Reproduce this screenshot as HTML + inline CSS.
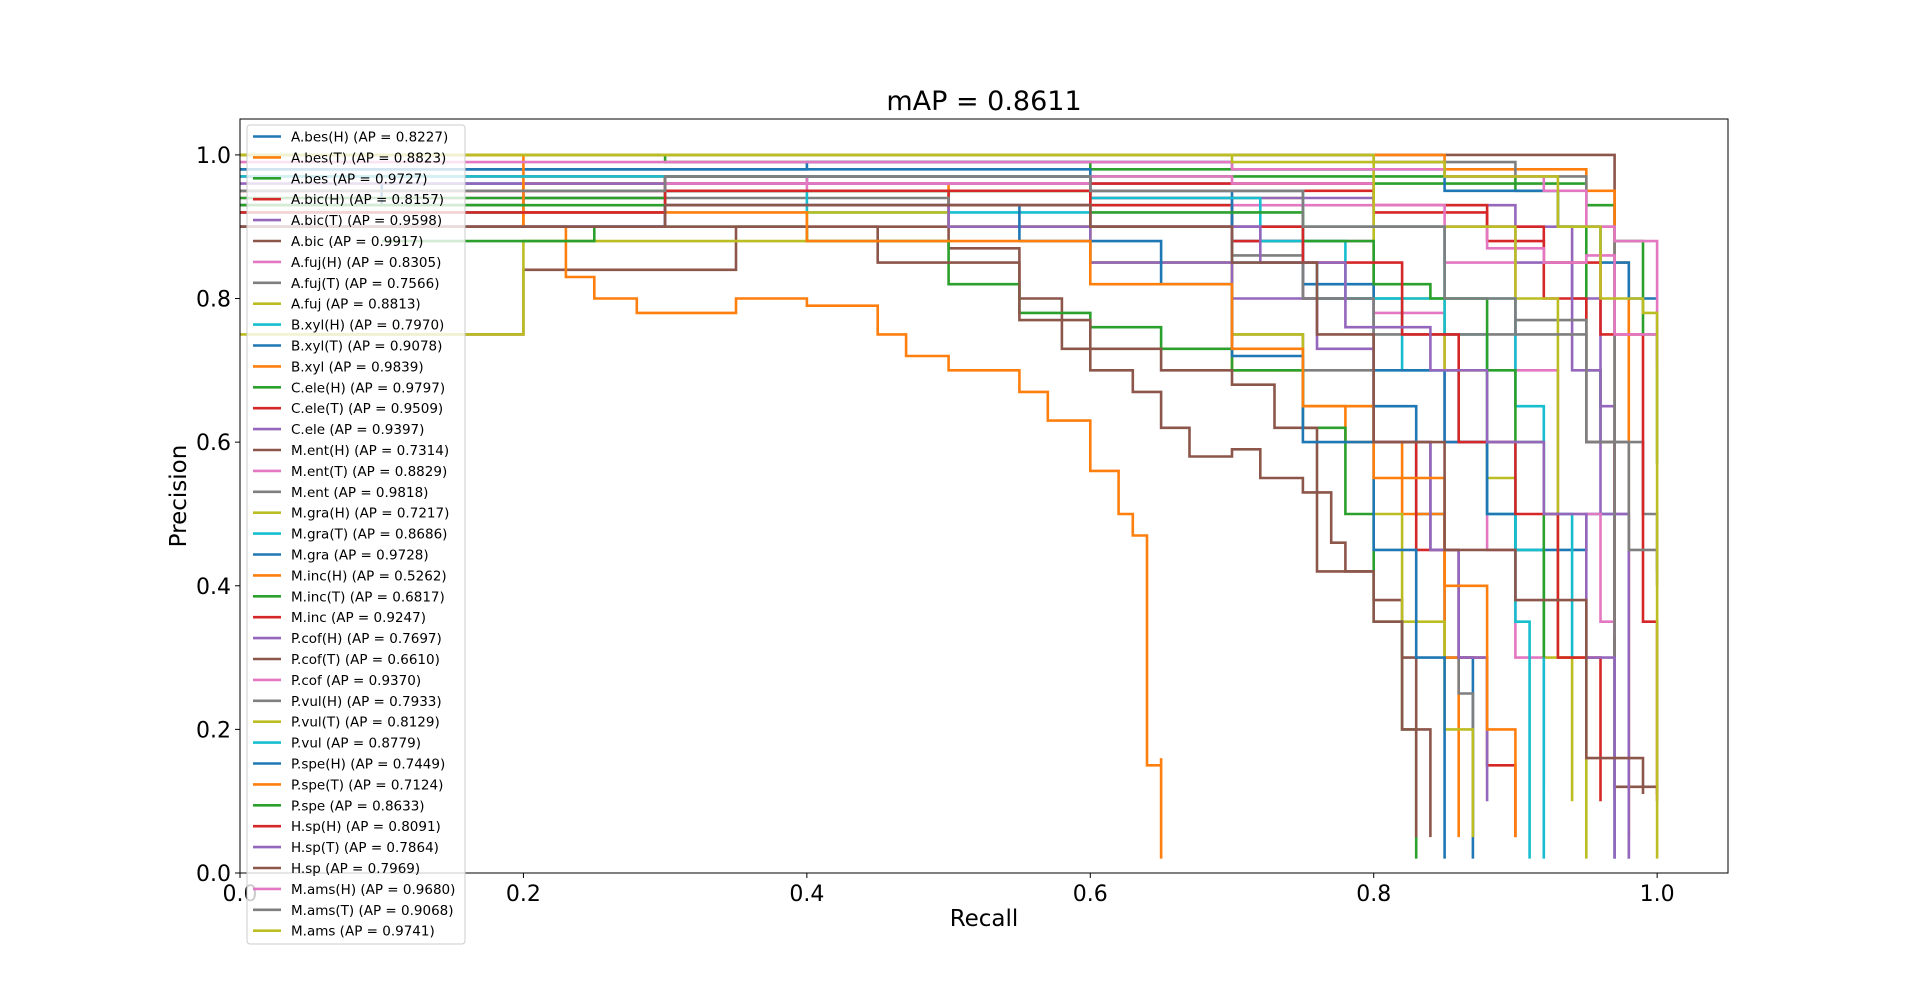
<!DOCTYPE html>
<html><head><meta charset="utf-8">
<style>
html,body{margin:0;padding:0;background:#fff;}
svg text{font-family:"DejaVu Sans","Liberation Sans",sans-serif;}
</style></head>
<body>
<svg id="chart" width="1920" height="981" xmlns="http://www.w3.org/2000/svg">
<rect width="1920" height="981" fill="#fff"/>
<text x="984" y="110" font-size="27" text-anchor="middle">mAP = 0.8611</text>
<g id="plot"></g>
<rect x="240" y="119" width="1488" height="754" fill="none" stroke="#000" stroke-width="1"/>
<g id="ticks"></g>
<text x="984" y="926" font-size="23" text-anchor="middle">Recall</text>
<text transform="translate(186,496) rotate(-90)" font-size="23" text-anchor="middle">Precision</text>
<g id="legend"></g>
</svg>
<script>
const names=["A.bes(H)","A.bes(T)","A.bes","A.bic(H)","A.bic(T)","A.bic","A.fuj(H)","A.fuj(T)","A.fuj","B.xyl(H)","B.xyl(T)","B.xyl","C.ele(H)","C.ele(T)","C.ele","M.ent(H)","M.ent(T)","M.ent","M.gra(H)","M.gra(T)","M.gra","M.inc(H)","M.inc(T)","M.inc","P.cof(H)","P.cof(T)","P.cof","P.vul(H)","P.vul(T)","P.vul","P.spe(H)","P.spe(T)","P.spe","H.sp(H)","H.sp(T)","H.sp","M.ams(H)","M.ams(T)","M.ams"];
const apValues=["0.8227","0.8823","0.9727","0.8157","0.9598","0.9917","0.8305","0.7566","0.8813","0.7970","0.9078","0.9839","0.9797","0.9509","0.9397","0.7314","0.8829","0.9818","0.7217","0.8686","0.9728","0.5262","0.6817","0.9247","0.7697","0.6610","0.9370","0.7933","0.8129","0.8779","0.7449","0.7124","0.8633","0.8091","0.7864","0.7969","0.9680","0.9068","0.9741"];
const recalls=[
[0,0.1,0.4,0.6,0.7,0.75,0.8,0.83,0.85,0.87,0.87],
[0,0.2,0.5,0.6,0.7,0.75,0.78,0.82,0.85,0.86],
[0,0.3,0.6,0.8,0.9,0.95,0.97,0.99,1.0],
[0,0.2,0.5,0.7,0.75,0.8,0.83,0.86,0.88,0.9],
[0,0.3,0.6,0.8,0.9,0.94,0.96,0.97,0.98],
[0,0.3,0.6,0.9,0.95,0.96,0.97,1.0],
[0,0.3,0.6,0.7,0.75,0.8,0.85,0.88,0.9,0.92],
[0,0.2,0.5,0.6,0.7,0.75,0.8,0.84,0.86,0.87],
[0,0.3,0.6,0.75,0.8,0.85,0.88,0.9,0.92,0.94],
[0,0.2,0.4,0.6,0.7,0.76,0.82,0.86,0.88,0.9,0.91],
[0,0.4,0.6,0.7,0.75,0.8,0.85,0.88,0.9,0.95,0.97],
[0,0.4,0.7,0.85,0.9,0.95,0.97,0.98],
[0,0.3,0.6,0.8,0.9,0.93,0.95,0.96],
[0,0.3,0.6,0.8,0.88,0.92,0.95,0.97],
[0,0.3,0.6,0.8,0.9,0.94,0.96,0.98],
[0.05,0.2,0.35,0.4,0.5,0.55,0.58,0.6,0.63,0.65,0.67,0.7,0.72,0.75,0.77,0.78,0.8,0.82,0.83,0.84],
[0,0.3,0.6,0.75,0.8,0.85,0.9,0.93,0.96,0.97],
[0,0.5,0.8,0.9,0.95,0.97,0.99,1.0],
[0,0.2,0.4,0.5,0.6,0.7,0.75,0.8,0.82,0.85,0.87],
[0,0.3,0.6,0.72,0.78,0.85,0.88,0.9,0.92],
[0,0.4,0.7,0.85,0.93,0.96,0.98,1.0],
[0,0.2,0.23,0.25,0.28,0.35,0.4,0.45,0.47,0.5,0.55,0.57,0.6,0.62,0.63,0.64,0.64,0.65,0.65],
[0.1,0.25,0.4,0.5,0.55,0.6,0.65,0.7,0.75,0.78,0.8,0.82,0.83],
[0,0.3,0.6,0.8,0.88,0.92,0.96,0.99,1.0],
[0,0.3,0.5,0.6,0.7,0.76,0.8,0.84,0.86,0.88],
[0.3,0.45,0.55,0.6,0.65,0.7,0.73,0.76,0.76,0.8,0.82,0.83],
[0,0.4,0.7,0.8,0.85,0.88,0.92,0.95,0.97,1.0],
[0,0.3,0.6,0.7,0.75,0.8,0.85,0.9,0.95,0.97],
[0,0.2,0.5,0.7,0.8,0.9,0.93,0.95],
[0,0.3,0.6,0.75,0.85,0.9,0.92,0.94],
[0,0.3,0.55,0.65,0.7,0.75,0.8,0.83,0.85],
[0,0.2,0.4,0.6,0.7,0.75,0.8,0.85,0.88,0.9],
[0,0.3,0.6,0.75,0.8,0.84,0.88,0.9,0.92],
[0,0.3,0.6,0.75,0.82,0.86,0.9,0.93,0.96],
[0,0.3,0.6,0.72,0.78,0.84,0.88,0.92,0.95,0.97],
[0,0.3,0.6,0.7,0.76,0.8,0.85,0.9,0.95,0.99],
[0,0.4,0.7,0.85,0.92,0.95,0.97,1.0],
[0,0.3,0.6,0.75,0.85,0.9,0.95,0.98,1.0],
[0,0.4,0.7,0.85,0.93,0.96,0.99,1.0]];
const precisions=[
[0.93,0.96,0.97,0.93,0.88,0.8,0.65,0.5,0.3,0.1,0.02],
[0.95,0.96,0.9,0.85,0.7,0.65,0.6,0.5,0.3,0.05],
[1,0.99,0.98,0.97,0.96,0.93,0.88,0.75,0.57],
[0.93,0.95,0.93,0.88,0.8,0.6,0.45,0.3,0.15,0.05],
[0.96,0.97,0.96,0.93,0.9,0.8,0.65,0.5,0.02],
[1,1,1,1,1,1,0.12,0.11],
[0.94,0.96,0.94,0.93,0.88,0.78,0.6,0.45,0.3,0.12],
[0.92,0.94,0.9,0.85,0.75,0.7,0.6,0.45,0.25,0.05],
[0.92,0.95,0.94,0.9,0.8,0.7,0.55,0.45,0.3,0.1],
[0.93,0.95,0.92,0.9,0.85,0.8,0.7,0.6,0.5,0.35,0.02],
[0.98,0.98,0.95,0.9,0.82,0.7,0.6,0.5,0.45,0.5,0.02],
[1,1,1,0.98,0.98,0.95,0.85,0.05],
[0.94,0.97,0.97,0.96,0.95,0.9,0.7,0.6],
[0.97,0.97,0.95,0.92,0.88,0.8,0.6,0.3],
[0.95,0.96,0.94,0.9,0.85,0.7,0.5,0.02],
[0.75,0.84,0.9,0.9,0.87,0.8,0.73,0.7,0.67,0.62,0.58,0.59,0.55,0.53,0.46,0.42,0.38,0.3,0.2,0.05],
[0.95,0.96,0.95,0.93,0.9,0.85,0.7,0.5,0.35,0.33],
[1,1,0.99,0.97,0.9,0.6,0.5,0.42],
[0.75,0.88,0.92,0.9,0.85,0.75,0.65,0.5,0.35,0.2,0.05],
[0.92,0.95,0.94,0.88,0.8,0.75,0.6,0.45,0.02],
[0.98,0.99,0.98,0.95,0.9,0.85,0.8,0.8],
[1,0.9,0.83,0.8,0.78,0.8,0.79,0.75,0.72,0.7,0.67,0.63,0.56,0.5,0.47,0.42,0.15,0.16,0.02],
[0.88,0.9,0.88,0.82,0.78,0.76,0.73,0.7,0.62,0.5,0.35,0.2,0.02],
[0.95,0.97,0.96,0.93,0.9,0.85,0.75,0.35,0.1],
[0.9,0.93,0.9,0.85,0.8,0.73,0.6,0.45,0.3,0.1],
[0.9,0.85,0.77,0.73,0.7,0.68,0.62,0.52,0.42,0.35,0.2,0.05],
[0.95,0.97,0.96,0.93,0.9,0.87,0.85,0.86,0.75,0.7],
[0.9,0.93,0.9,0.86,0.8,0.75,0.75,0.77,0.6,0.1],
[1,1,1,1,0.9,0.8,0.3,0.02],
[0.97,0.97,0.95,0.9,0.8,0.65,0.5,0.3],
[0.9,0.93,0.88,0.82,0.72,0.6,0.45,0.3,0.02],
[0.9,0.92,0.88,0.82,0.73,0.65,0.55,0.4,0.2,0.05],
[0.93,0.95,0.92,0.88,0.82,0.8,0.7,0.6,0.3],
[0.92,0.95,0.9,0.85,0.75,0.6,0.5,0.3,0.1],
[0.9,0.93,0.9,0.85,0.76,0.7,0.6,0.5,0.3,0.02],
[0.9,0.93,0.9,0.85,0.75,0.6,0.45,0.38,0.16,0.11],
[0.99,0.99,0.98,0.97,0.95,0.9,0.88,0.71],
[0.95,0.97,0.95,0.9,0.8,0.75,0.6,0.45,0.4],
[1,1,0.99,0.97,0.9,0.8,0.78,0.02]];
const xTicks=["0.0","0.2","0.4","0.6","0.8","1.0"];
const yTicks=["0.0","0.2","0.4","0.6","0.8","1.0"];
const colors=["#1f77b4","#ff7f0e","#2ca02c","#d62728","#9467bd","#8c564b","#e377c2","#7f7f7f","#bcbd22","#17becf"];
const NS="http://www.w3.org/2000/svg";
const X0=240,X1=1728,Y0=873,Y1=119,XMAX=1.05,YMAX=1.05;
function sx(v){return X0+v/XMAX*(X1-X0);}
function sy(v){return Y0-v/YMAX*(Y0-Y1);}
const plot=document.getElementById('plot');
const clip=document.createElementNS(NS,'clipPath');clip.setAttribute('id','cp');
const cr=document.createElementNS(NS,'rect');cr.setAttribute('x',X0);cr.setAttribute('y',Y1);cr.setAttribute('width',X1-X0);cr.setAttribute('height',Y0-Y1);
clip.appendChild(cr);plot.appendChild(clip);
plot.setAttribute('clip-path','url(#cp)');
for(let i=0;i<names.length;i++){
  const r=recalls[i],p=precisions[i];
  let d='M'+sx(r[0]).toFixed(1)+','+sy(p[0]).toFixed(1);
  for(let k=1;k<r.length;k++){d+=' H'+sx(r[k]).toFixed(1)+' V'+sy(p[k]).toFixed(1);}
  const path=document.createElementNS(NS,'path');
  
  
  path.setAttribute('d',d);path.setAttribute('fill','none');
  path.setAttribute('stroke',colors[i%10]);path.setAttribute('stroke-width','2.6');
  plot.appendChild(path);
}
const ticks=document.getElementById('ticks');
xTicks.forEach(t=>{const x=sx(parseFloat(t));
  const l=document.createElementNS(NS,'line');
  
  
  l.setAttribute('x1',x);l.setAttribute('x2',x);l.setAttribute('y1',Y0);l.setAttribute('y2',Y0+5);l.setAttribute('stroke','#000');ticks.appendChild(l);
  const tx=document.createElementNS(NS,'text');
  
  
  tx.setAttribute('x',x);tx.setAttribute('y',Y0+28);tx.setAttribute('font-size','22');tx.setAttribute('text-anchor','middle');tx.textContent=t;ticks.appendChild(tx);});
yTicks.forEach(t=>{const y=sy(parseFloat(t));
  const l=document.createElementNS(NS,'line');
  
  
  l.setAttribute('x1',X0-5);l.setAttribute('x2',X0);l.setAttribute('y1',y);l.setAttribute('y2',y);l.setAttribute('stroke','#000');ticks.appendChild(l);
  const tx=document.createElementNS(NS,'text');
  
  
  tx.setAttribute('x',X0-9);tx.setAttribute('y',y+8);tx.setAttribute('font-size','22');tx.setAttribute('text-anchor','end');tx.textContent=t;ticks.appendChild(tx);});
const lg=document.getElementById('legend');
const box=document.createElementNS(NS,'rect');


box.setAttribute('x',247);box.setAttribute('y',125);box.setAttribute('width',218);box.setAttribute('height',819);box.setAttribute('rx',3);
box.setAttribute('fill','#fff');box.setAttribute('fill-opacity','0.8');box.setAttribute('stroke','#ccc');lg.appendChild(box);
for(let i=0;i<names.length;i++){const y=136.5+i*20.9;
  const l=document.createElementNS(NS,'line');
  
  
  l.setAttribute('x1',253);l.setAttribute('x2',281);l.setAttribute('y1',y);l.setAttribute('y2',y);l.setAttribute('stroke',colors[i%10]);l.setAttribute('stroke-width','2.6');lg.appendChild(l);
  const tx=document.createElementNS(NS,'text');
  
  
  tx.setAttribute('x',291);tx.setAttribute('y',y+5);tx.setAttribute('font-size','13.5');tx.textContent=names[i]+' (AP = '+apValues[i]+')';lg.appendChild(tx);}
</script>
</body></html>
